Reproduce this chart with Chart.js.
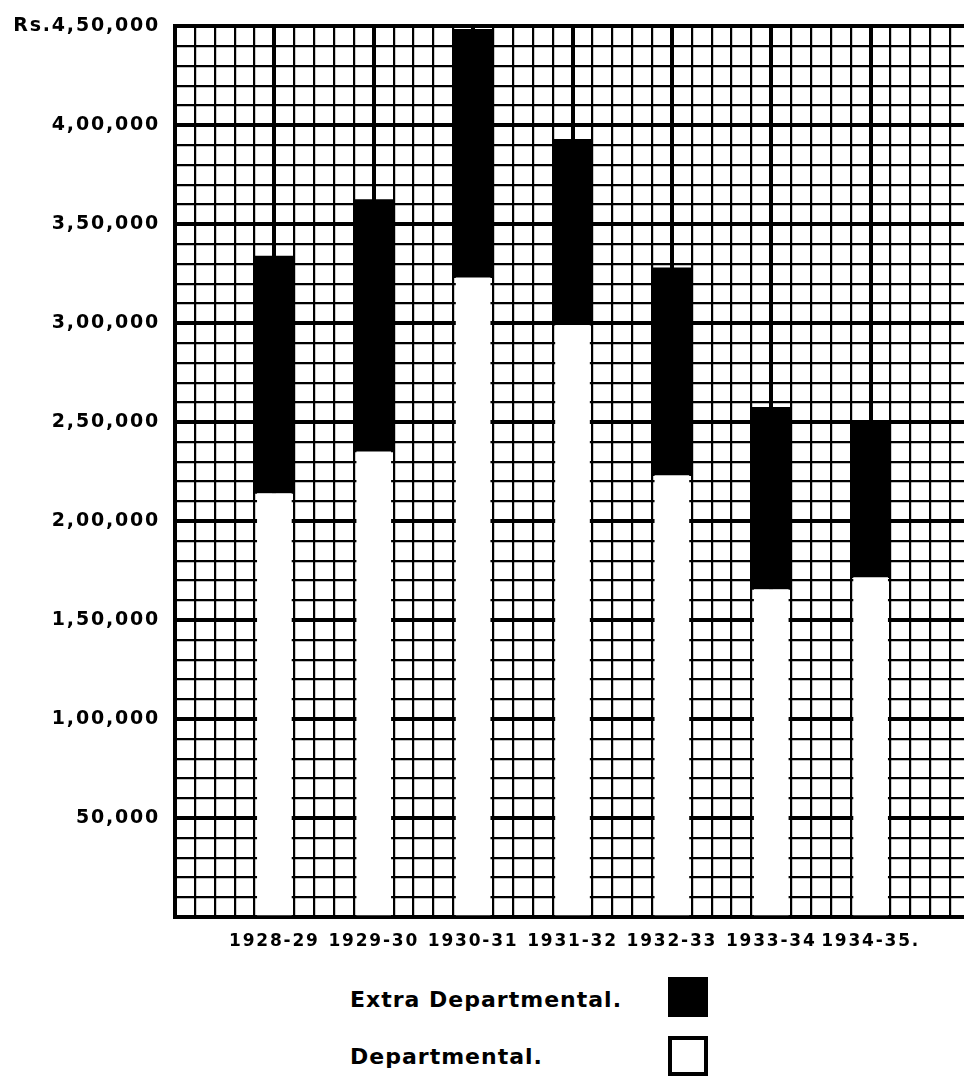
<!DOCTYPE html>
<html lang="en">
<head>
    <meta charset="UTF-8">
    <title>Departmental and Extra Departmental, 1928-29 to 1934-35</title>
    <script src="https://cdn.jsdelivr.net/npm/chart.js"></script>
    <style>
        body {
            margin: 0;
            background: #fff;
            overflow: hidden;
            font-family: 'DejaVu Sans', sans-serif;
        }
        /* wider than the window: the right edge of the graph paper is cut off, as in the scan */
        .chart-box {
            position: absolute;
            left: 0;
            top: 0;
            width: 984px;
            height: 960px;
        }
        .legend-text {
            position: absolute;
            left: 350px;
            font-weight: bold;
            font-size: 22px;
            letter-spacing: 1px;
            line-height: 24px;
            color: #000;
        }
        .legend-box {
            position: absolute;
            left: 668px;
            width: 40px;
            height: 40px;
            box-sizing: border-box;
            border: 4px solid #000;
        }
    </style>
</head>
<body>
    <div class="chart-box">
        <canvas id="chart"></canvas>
    </div>

    <div class="legend-text" style="top: 988px;">Extra Departmental.</div>
    <div class="legend-box" style="top: 977px; background: #000;"></div>
    <div class="legend-text" style="top: 1045px;">Departmental.</div>
    <div class="legend-box" style="top: 1036px; background: #fff;"></div>

    <script>
        // data (rupees)
        const years = ['1928-29', '1929-30', '1930-31', '1931-32', '1932-33', '1933-34', '1934-35.'];
        const departmental = [214000, 235000, 323000, 299000, 223000, 165500, 171500];
        const extraDepartmental = [120000, 127500, 125500, 94000, 105000, 92000, 78500];

        // y tick labels
        const yLabelValues = [50000, 100000, 150000, 200000, 250000, 300000, 350000, 400000, 450000];
        const yLabels = ['50,000', '1,00,000', '1,50,000', '2,00,000', '2,50,000', '3,00,000', '3,50,000', '4,00,000', 'Rs.4,50,000'];

        const isWhole = v => Math.abs(v - Math.round(v)) < 1e-6;

        // wider letters, like the printed original
        const spacing = {
            id: 'spacing',
            beforeLayout(chart) { chart.ctx.letterSpacing = '1.8px'; },
            beforeDraw(chart) { chart.ctx.letterSpacing = '1.8px'; }
        };

        new Chart(document.getElementById('chart'), {
            type: 'bar',
            data: {
                datasets: [{
                    label: 'Departmental.',
                    data: departmental.map((v, i) => ({ x: i + 1, y: v })),
                    backgroundColor: '#fff',
                    borderWidth: 0,
                    barThickness: 34
                }, {
                    label: 'Extra Departmental.',
                    data: extraDepartmental.map((v, i) => ({ x: i + 1, y: v })),
                    backgroundColor: '#000',
                    borderWidth: 0,
                    barThickness: 40
                }]
            },
            options: {
                responsive: true,
                maintainAspectRatio: false,
                animation: false,
                layout: { padding: { top: 22, left: 0, right: 0, bottom: 0 } },
                plugins: {
                    legend: { display: false },
                    tooltip: { enabled: false }
                },
                scales: {
                    x: {
                        type: 'linear',
                        stacked: true,
                        offset: false,
                        min: 0,
                        max: 8,
                        border: { display: true, color: '#000', width: 4 },
                        grid: {
                            offset: false,
                            color: '#000',
                            drawTicks: false,
                            lineWidth: c => (c.tick && isWhole(c.tick.value)) ? 4 : 2.2
                        },
                        ticks: {
                            stepSize: 0.2,
                            autoSkip: false,
                            maxRotation: 0,
                            minRotation: 0,
                            padding: 14,
                            color: '#000',
                            font: { family: 'DejaVu Sans', size: 17, weight: 'bold' },
                            callback: v => {
                                const i = Math.round(v);
                                return isWhole(v) && i >= 1 && i <= years.length ? years[i - 1] : '';
                            }
                        },
                        afterFit: s => { s.height = 43; }
                    },
                    y: {
                        stacked: true,
                        min: 0,
                        max: 450000,
                        border: { display: true, color: '#000', width: 4 },
                        grid: {
                            color: '#000',
                            drawTicks: false,
                            lineWidth: c => (c.tick && c.tick.value % 50000 === 0) ? 4 : 2.2
                        },
                        ticks: {
                            stepSize: 10000,
                            autoSkip: false,
                            padding: 15,
                            color: '#000',
                            font: { family: 'DejaVu Sans', size: 19, weight: 'bold' },
                            callback: v => {
                                const k = yLabelValues.indexOf(v);
                                return k >= 0 ? yLabels[k] : '';
                            }
                        },
                        afterFit: s => { s.width = 175; }
                    }
                }
            },
            plugins: [spacing]
        });
    </script>
</body>
</html>
